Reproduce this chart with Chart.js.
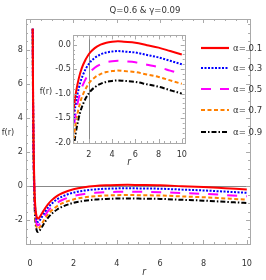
<!DOCTYPE html>
<html>
<head>
<meta charset="utf-8">
<script src="https://cdn.jsdelivr.net/npm/chart.js@4.4.1/dist/chart.umd.min.js"></script>
<style>
  body { margin: 0; width: 266px; height: 280px; background: #fff; position: relative; overflow: hidden;
         font-family: "Liberation Sans Narrow", "DejaVu Sans Condensed", "Liberation Sans", sans-serif; color: #333; }
  canvas { position: absolute; }
  #main { left: 0; top: 0; }
  #inset { left: 36px; top: 28px; }
  .lbl { position: absolute; font-size: 10px; white-space: nowrap; transform: translate(-50%, -50%); line-height: 1; }
  .leg { position: absolute; left: 199px; height: 12px; font-size: 9.5px; line-height: 12px; white-space: nowrap; }
  .leg svg { position: absolute; left: 0; top: 0; }
  .leg span { position: absolute; left: 34px; top: 0; }
</style>
</head>
<body>
<canvas id="main" width="266" height="280"></canvas>
<canvas id="inset" width="157" height="140"></canvas>

<div class="lbl" style="left:145px;top:10px;font-size:9.5px">Q=0.6 &amp; γ=0.09</div>
<div class="lbl" style="left:8px;top:132px;font-size:9px">f(r)</div>
<div class="lbl" style="left:144px;top:272px;font-style:italic">r</div>
<div class="lbl" style="left:46px;top:91px;font-size:9px">f(r)</div>
<div class="lbl" style="left:129px;top:162px;font-style:italic">r</div>
<div id="legend"></div>

<script>
// radius values shared by every curve
const r = [0.12, 0.13, 0.14, 0.15, 0.17, 0.2, 0.22, 0.25, 0.3, 0.33, 0.36, 0.4, 0.45, 0.55, 0.7, 0.85,
           1, 1.25, 1.5, 2, 2.5, 3, 3.5, 4, 4.5, 5, 6, 7, 8, 9, 10];

const alphaLabels = ['α= 0.1', 'α= 0.3', 'α= 0.5', 'α= 0.7', 'α= 0.9'];

const f01 = [9.25, 6.81, 4.97, 3.55, 1.58, -0.12, -0.77, -1.36, -1.79, -1.89, -1.91, -1.89, -1.81, -1.60, -1.29, -1.03,
             -0.83, -0.58, -0.41, -0.19, -0.07, 0.00, 0.04, 0.06, 0.07, 0.06, 0.04, -0.01, -0.06, -0.13, -0.20];
const f03 = [9.25, 6.61, 4.77, 3.35, 1.38, -0.32, -0.97, -1.56, -1.99, -2.09, -2.11, -2.09, -2.01, -1.80, -1.49, -1.23,
             -1.03, -0.78, -0.61, -0.39, -0.27, -0.20, -0.16, -0.14, -0.13, -0.14, -0.16, -0.21, -0.26, -0.33, -0.40];
const f05 = [9.25, 6.41, 4.57, 3.15, 1.18, -0.52, -1.17, -1.76, -2.19, -2.29, -2.31, -2.29, -2.21, -2.00, -1.69, -1.43,
             -1.23, -0.98, -0.81, -0.59, -0.47, -0.40, -0.36, -0.34, -0.33, -0.34, -0.36, -0.41, -0.46, -0.53, -0.60];
const f07 = [9.25, 6.21, 4.37, 2.95, 0.98, -0.72, -1.37, -1.96, -2.39, -2.49, -2.51, -2.49, -2.41, -2.20, -1.89, -1.63,
             -1.43, -1.18, -1.01, -0.79, -0.67, -0.60, -0.56, -0.54, -0.53, -0.54, -0.56, -0.61, -0.66, -0.73, -0.80];
const f09 = [9.25, 6.01, 4.17, 2.75, 0.78, -0.92, -1.57, -2.16, -2.59, -2.69, -2.71, -2.69, -2.61, -2.40, -2.09, -1.83,
             -1.63, -1.38, -1.21, -0.99, -0.87, -0.80, -0.76, -0.74, -0.73, -0.74, -0.76, -0.81, -0.86, -0.93, -1.00];

const mainXTicks = [0, 2, 4, 6, 8, 10];
const mainYTicks = [-2, 0, 2, 4, 6, 8];
const insetXTicks = [2, 4, 6, 8, 10];
const insetYTicks = [-2.0, -1.5, -1.0, -0.5, 0.0];

const series = [f01, f03, f05, f07, f09];
const colors = ['#ff0000', '#0000ff', '#ff00ff', '#ff8000', '#000000'];
const dashes = [[], [2, 1.5], [10, 9], [4, 2.5], [5, 2, 1.5, 2]];

const tickFont = { family: '"Liberation Sans Narrow", "DejaVu Sans Condensed", "Liberation Sans", sans-serif', size: 9 };

const makeSets = () => series.map((vals, i) => ({
	label: alphaLabels[i],
	data: r.map((x, j) => ({ x: x, y: vals[j] })),
	borderColor: colors[i],
	borderWidth: 2,
	borderDash: dashes[i],
	borderCapStyle: 'butt',
	pointRadius: 0,
	fill: false,
	cubicInterpolationMode: 'monotone',
}));

// frame with inward ticks, plus the gray axis line
const framePlugin = {
	id: 'frame',
	beforeDatasetsDraw(chart, args, opts) {
		const { ctx, chartArea: a, scales } = chart;
		ctx.save();
		ctx.strokeStyle = '#888';
		ctx.lineWidth = 1;
		ctx.beginPath();
		if (opts.hLine !== undefined) {
			const y = Math.round(scales.y.getPixelForValue(opts.hLine)) + 0.5;
			ctx.moveTo(a.left, y); ctx.lineTo(a.right, y);
		}
		if (opts.vLine !== undefined) {
			const x = Math.round(scales.x.getPixelForValue(opts.vLine)) + 0.5;
			ctx.moveTo(x, a.top); ctx.lineTo(x, a.bottom);
		}
		ctx.stroke();
		ctx.restore();
	},
	afterDraw(chart, args, opts) {
		const { ctx, chartArea: a, scales } = chart;
		ctx.save();
		ctx.strokeStyle = '#aaa';
		ctx.lineWidth = 1;
		ctx.strokeRect(Math.round(a.left) + 0.5, Math.round(a.top) + 0.5, Math.round(a.right - a.left), Math.round(a.bottom - a.top));
		ctx.beginPath();
		const xs = scales.x, ys = scales.y;
		for (let v = Math.ceil(xs.min / opts.xMinor) * opts.xMinor; v <= xs.max + 1e-9; v += opts.xMinor) {
			const major = Math.abs(v / opts.xMajor - Math.round(v / opts.xMajor)) < 1e-6;
			const len = major ? 4 : 2;
			const x = Math.round(xs.getPixelForValue(v)) + 0.5;
			ctx.moveTo(x, a.bottom); ctx.lineTo(x, a.bottom - len);
			ctx.moveTo(x, a.top); ctx.lineTo(x, a.top + len);
		}
		for (let v = Math.ceil(ys.min / opts.yMinor) * opts.yMinor; v <= ys.max + 1e-9; v += opts.yMinor) {
			const major = Math.abs(v / opts.yMajor - Math.round(v / opts.yMajor)) < 1e-6;
			const len = major ? 4 : 2;
			const y = Math.round(ys.getPixelForValue(v)) + 0.5;
			ctx.moveTo(a.left, y); ctx.lineTo(a.left + len, y);
			ctx.moveTo(a.right, y); ctx.lineTo(a.right - len, y);
		}
		ctx.stroke();
		ctx.restore();
	},
};

const axis = (min, max, ticks, fmt, pad, fit) => ({
	type: 'linear',
	min: min,
	max: max,
	grid: { display: false, drawTicks: false },
	border: { display: false },
	afterBuildTicks: (s) => { s.ticks = ticks.map((v) => ({ value: v })); },
	afterFit: fit,
	ticks: { padding: pad, font: tickFont, color: '#333', autoSkip: false, maxRotation: 0, callback: fmt },
});

const mainChart = new Chart(document.getElementById('main'), {
	type: 'line',
	data: { datasets: makeSets() },
	options: {
		responsive: false,
		animation: false,
		devicePixelRatio: 1,
		layout: { padding: { left: 0, top: 19, right: 3, bottom: 0 } },
		plugins: {
			legend: { display: false },
			tooltip: { enabled: false },
			frame: { hLine: 0, xMajor: 2, xMinor: 0.5, yMajor: 2, yMinor: 0.5 },
		},
		scales: {
			x: axis(-0.19, 10.15, mainXTicks, (v) => String(v), 14, (s) => { s.height = 36; }),
			y: axis(-3.41, 9.82, mainYTicks, (v) => String(v), 3, (s) => { s.width = 26; }),
		},
	},
	plugins: [framePlugin],
});

const insetChart = new Chart(document.getElementById('inset'), {
	type: 'line',
	data: { datasets: makeSets() },
	options: {
		responsive: false,
		animation: false,
		devicePixelRatio: 1,
		layout: { padding: { left: 0, top: 4, right: 2, bottom: 0 } },
		plugins: {
			legend: { display: false },
			tooltip: { enabled: false },
			frame: { vLine: 2, xMajor: 2, xMinor: 0.5, yMajor: 0.5, yMinor: 0.1 },
		},
		scales: {
			x: axis(0.63, 10.25, insetXTicks, (v) => String(v), 6, (s) => { s.height = 25; }),
			y: axis(-2.01, 0.19, insetYTicks, (v) => Number(v).toFixed(1), 2, (s) => { s.width = 37; }),
		},
	},
	plugins: [framePlugin],
});

// legend
const legendTops = [42, 62, 83, 104, 126];
const legend = document.getElementById('legend');
alphaLabels.forEach((lab, i) => {
	const item = document.createElement('div');
	item.className = 'leg';
	item.style.top = legendTops[i] + 'px';
	item.innerHTML = '<svg width="32" height="12"><line x1="2" y1="6" x2="30" y2="6" stroke="' + colors[i] +
		'" stroke-width="2.2" stroke-dasharray="' + (dashes[i].length ? dashes[i].join(',') : 'none') + '"/></svg>' +
		'<span>' + lab + '</span>';
	legend.appendChild(item);
});
</script>
</body>
</html>
